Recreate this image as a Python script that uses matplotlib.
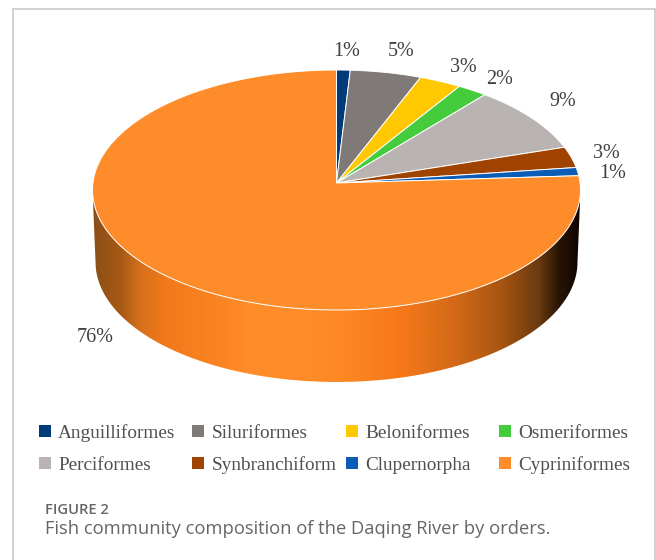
import numpy as np
import matplotlib.pyplot as plt
from matplotlib.colors import LinearSegmentedColormap
from matplotlib.patches import PathPatch, Rectangle
from matplotlib.path import Path

# fish orders and their share of the pie
orders = ['Anguilliformes', 'Siluriformes', 'Beloniformes', 'Osmeriformes',
          'Perciformes', 'Synbranchiform', 'Clupernorpha', 'Cypriniformes']
shares = [0.9, 4.7, 2.8, 2.0, 8.8, 2.8, 1.1, 76.9]
pct_labels = ['1%', '5%', '3%', '2%', '9%', '3%', '1%', '76%']
colors = ['#003a78', '#7f7a78', '#ffc800', '#44cc3c',
          '#b9b4b2', '#a04200', '#0a5cb4', '#ff8c2a']

# label centres in pixels
label_pos = [(347, 51), (401, 51), (463, 68), (500, 80),
             (563, 101), (606, 153), (613, 174), (95, 338)]

# shading of the pie's side, left to right
side_x = [93, 120, 140, 165, 200, 250, 310, 360, 400, 460, 502, 540, 560, 580]
side_c = ['#8a4f18', '#a85a14', '#d8701a', '#f27a1a', '#f8801f', '#ff8c28', '#ff8c28',
          '#fb8420', '#f87818', '#d06818', '#a85510', '#6a3a10', '#2a1505', '#100500']

SERIF = 'Liberation Serif'
SANS = 'Open Sans'

# pie geometry in pixels
cx, cy, rx, ry = 336.5, 190, 244, 120
apex_y = 183
bot_cy, bot_rx, bot_ry = 262, 241, 120

fig = plt.figure(figsize=(6.56, 5.6), dpi=100)
ax = fig.add_axes([0, 0, 1, 1])

# card border
ax.add_patch(Rectangle((13, 8.5), 641.5, 600, fc='white', ec='#c9c9c9', lw=1.2))

# side of the pie
t = np.radians(np.linspace(90, 270, 200))
top_edge = np.column_stack([cx + rx * np.sin(t), cy - ry * np.cos(t)])
bot_edge = np.column_stack([cx + bot_rx * np.sin(t), bot_cy - bot_ry * np.cos(t)])
outline = np.vstack([top_edge, bot_edge[::-1], top_edge[:1]])
clip = PathPatch(Path(outline), fc='none', ec='none', transform=ax.transData)
ax.add_patch(clip)
pos = (np.array(side_x) - side_x[0]) / (side_x[-1] - side_x[0])
cmap = LinearSegmentedColormap.from_list('side', list(zip(pos, side_c)))
img = ax.imshow(np.linspace(0, 1, 500).reshape(1, -1), cmap=cmap, aspect='auto',
                extent=(side_x[0], side_x[-1], 390, 180), zorder=2)
img.set_clip_path(clip)

# top of the pie, clockwise from 12 o'clock
edges = np.cumsum([0] + shares) / np.sum(shares) * 2 * np.pi
for i in range(len(orders)):
    a = np.linspace(edges[i], edges[i + 1], 300)
    xs = np.r_[cx, cx + rx * np.sin(a)]
    ys = np.r_[apex_y, cy - ry * np.cos(a)]
    ax.fill(xs, ys, color=colors[i], ec='white', lw=0.7, zorder=3)

# percent labels
for lab, (x, y) in zip(pct_labels, label_pos):
    ax.text(x, y, lab, family=SERIF, fontsize=14.5, color='#404040',
            ha='center', va='center', zorder=5)

# legend, 4 even columns in 2 rows
for i, name in enumerate(orders):
    lx = 44.5 + 153.5 * (i % 4)
    ly = 431 + 31.5 * (i // 4)
    ax.scatter(lx, ly, marker='s', s=70, color=colors[i], lw=0, zorder=5)
    ax.text(lx + 13.5, ly + 2.5, name, family=SERIF, fontsize=13.9, color='#505050',
            ha='left', va='center', zorder=5)

# caption
ax.text(45, 510, 'FIGURE 2', family=SANS, fontsize=10.6, fontweight='semibold',
        color='#666666', ha='left', va='center')
ax.text(45, 529, 'Fish community composition of the Daqing River by orders.',
        family=SANS, fontsize=13.2, color='#666666', ha='left', va='center')

ax.set_xlim(0, 656)
ax.set_ylim(560, 0)
ax.axis('off')

fig.savefig('out.png', dpi=100)
